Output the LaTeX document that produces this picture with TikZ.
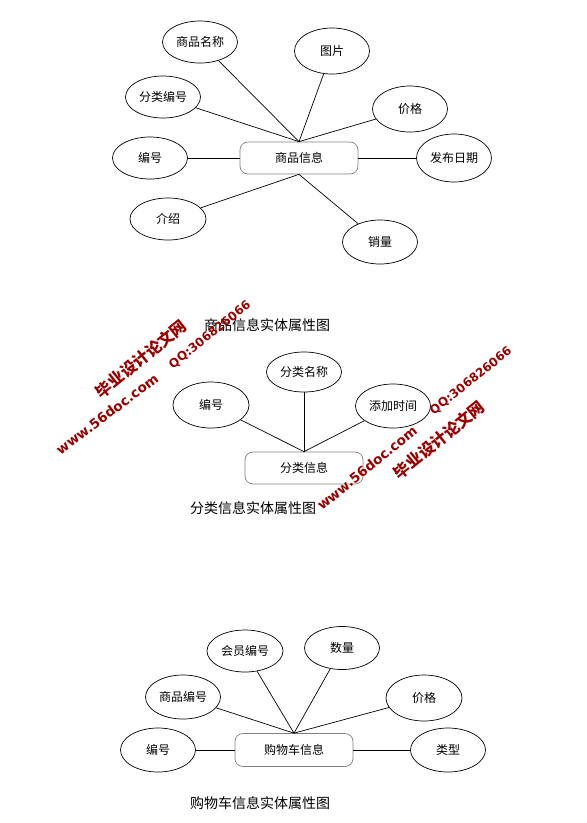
\documentclass[tikz,border=0pt]{standalone}
\usepackage{fontspec}
\setmainfont{Noto Sans CJK SC}
\newfontfamily\wmlatin{DejaVu Sans}
\usetikzlibrary{shapes.geometric}
\begin{document}
\begin{tikzpicture}[x=1pt,y=-1pt,
  attr/.style={ellipse,draw,line width=0.7pt,inner sep=0pt,minimum width=75pt,minimum height=44pt,font=\fontsize{12}{12}\selectfont},
  ent/.style={rectangle,rounded corners=8pt,draw=black!50,line width=0.7pt,minimum width=118pt,minimum height=32pt,inner sep=0pt,font=\fontsize{12}{12}\selectfont},
  link/.style={line width=0.7pt},
  captxt/.style={font=\fontsize{14}{14}\selectfont},
  wmcol/.style={text=red!60!black,inner sep=0pt},
  wm/.style={wmcol,rotate=39,font=\bfseries\fontsize{16}{16}\selectfont},
  wmq/.style={wmcol,rotate=38.5,font=\wmlatin\bfseries\fontsize{12}{12}\selectfont},
  wmw/.style={wmcol,rotate=38,font=\wmlatin\bfseries\fontsize{13.5}{13.5}\selectfont}]
\useasboundingbox (0,0) rectangle (587,823);
% ---------- diagram 1 ----------
\node[ent] (g) at (299,158) {商品信息};
\node[attr,minimum height=42pt] (g1) at (200,42) {商品名称};
\node[attr,minimum height=46pt] (g2) at (332,51) {图片};
\node[attr,minimum height=42pt] (g3) at (163,97) {分类编号};
\node[attr,minimum height=46pt] (g4) at (410,109) {价格};
\node[attr,minimum height=42pt] (g5) at (150,158) {编号};
\node[attr,minimum height=48pt] (g6) at (454,158) {发布日期};
\node[attr,minimum width=76pt,minimum height=42pt] (g7) at (168,219) {介绍};
\node[attr,minimum height=44pt] (g8) at (380,242) {销量};
\draw[link] (g1) -- (g.north);
\draw[link] (g2) -- (g.north);
\draw[link] (g3) -- (g.north);
\draw[link] (g4) -- (g.north);
\draw[link] (g5) -- (g);
\draw[link] (g6) -- (g);
\draw[link] (g7) -- (g.south);
\draw[link] (g8) -- (g.south);
\node[captxt] (c1) at (267,325) {商品信息实体属性图};
% ---------- diagram 2 ----------
\node[ent] (f) at (304,468) {分类信息};
\node[attr,minimum height=40pt] (f1) at (304,372) {分类名称};
\node[attr,minimum width=76pt,minimum height=46pt] (f2) at (211,405) {编号};
\node[attr,minimum height=44pt] (f3) at (393,406) {添加时间};
\draw[link] (f1) -- (f.north);
\draw[link] (f2) -- (f.north);
\draw[link] (f3) -- (f.north);
\node[captxt] (c2) at (253,508) {分类信息实体属性图};
% ---------- diagram 3 ----------
\node[ent,minimum height=33pt] (s) at (294,750) {购物车信息};
\node[attr,minimum width=76pt,minimum height=42pt] (s1) at (245,651) {会员编号};
\node[attr,minimum height=43pt] (s2) at (342,648) {数量};
\node[attr,minimum height=44pt] (s3) at (183,697) {商品编号};
\node[attr,minimum width=76pt,minimum height=46pt] (s4) at (424,698) {价格};
\node[attr,minimum height=44pt] (s5) at (158,750) {编号};
\node[attr,minimum height=44pt] (s6) at (448,750) {类型};
\draw[link] (s1) -- (s.north);
\draw[link] (s2) -- (s.north);
\draw[link] (s3) -- (s.north);
\draw[link] (s4) -- (s.north);
\draw[link] (s5) -- (s);
\draw[link] (s6) -- (s);
\node[captxt] (c3) at (260,803) {购物车信息实体属性图};
% ---------- watermarks ----------
\node[wm] (w1) at (141,359) {毕业设计论文网};
\node[wmw,rotate=-1] (w2) at (107,414) {www.56doc.com};
\node[wmq] (w3) at (210,335) {QQ:306826066};
\node[wmq] (w4) at (471,381) {QQ:306826066};
\node[wmw,rotate=1] (w5) at (367,468) {www.56doc.com};
\node[wm] (w6) at (439,440) {毕业设计论文网};
\end{tikzpicture}
\end{document}
